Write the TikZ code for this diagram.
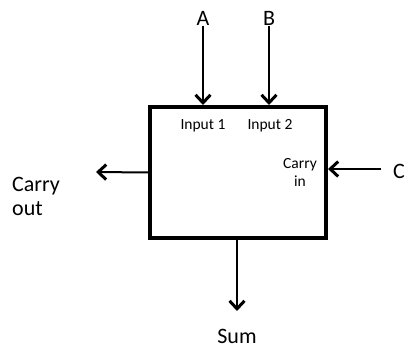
\documentclass[tikz,border=0pt]{standalone}
\usepackage{fontspec}
\setmainfont{Carlito}
\usetikzlibrary{arrows.meta}
\begin{document}
\begin{tikzpicture}[x=1pt,y=-1pt,
  big/.style={font=\fontsize{22}{24}\selectfont, inner sep=1pt},
  small/.style={font=\fontsize{15.5}{18}\selectfont, inner sep=1pt},
  conn/.style={line width=2pt, -{Straight Barb[length=8pt,width=15pt,line width=3pt]}},
  blockbox/.style={draw, line width=3.4pt, minimum width=176pt, minimum height=131pt, inner sep=0pt}]
\useasboundingbox (0,0) rectangle (406,350);
\node[blockbox] (box) at (238,172.5) {};
\node[big] (A) at (203,18) {A};
\node[big] (B) at (269,18) {B};
\node[small] (in1) at (203,126) {Input 1};
\node[small] (in2) at (270,126) {Input 2};
\node[small, align=center] (cin) at (300,172) {Carry\\in};
\node[big] (C) at (399,171) {C};
\node[big, align=left] (cout) at (36,196) {Carry\\out};
\node[big] (sum) at (237,336) {Sum};
\coordinate (aEnd) at (203,105);
\coordinate (bEnd) at (269,105);
\coordinate (coTip) at (96,172);
\coordinate (ciStart) at (381,169);
\coordinate (ciEnd) at (328,169);
\coordinate (sTip) at (237,311);
\draw[conn] (A.south) -- (aEnd);
\draw[conn] (B.south) -- (bEnd);
\draw[conn] (box.west) -- (coTip);
\draw[conn] (ciStart) -- (ciEnd);
\draw[conn] (box.south -| sTip) -- (sTip);
\end{tikzpicture}
\end{document}
